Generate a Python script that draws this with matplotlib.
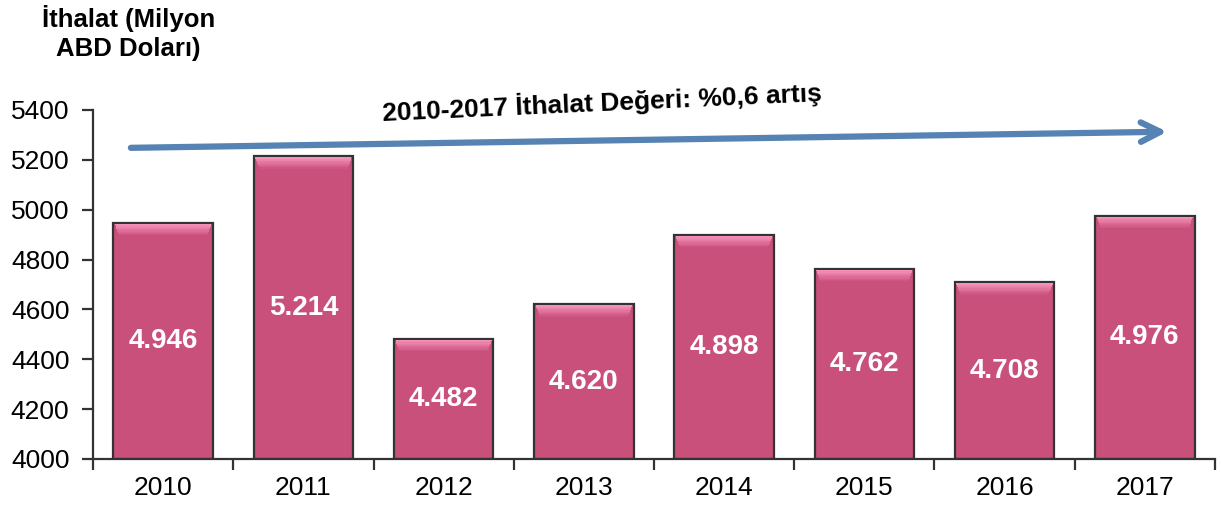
import matplotlib
matplotlib.use("Agg")
import matplotlib.pyplot as plt
import matplotlib.colors as mcolors
import numpy as np

plt.rcParams['font.family'] = ['Liberation Sans', 'DejaVu Sans']

# yillara gore ithalat degerleri (milyon ABD dolari)
years = ['2010', '2011', '2012', '2013', '2014', '2015', '2016', '2017']
imports = [4946, 5214, 4482, 4620, 4898, 4762, 4708, 4976]
value_labels = ['4.946', '5.214', '4.482', '4.620', '4.898', '4.762', '4.708', '4.976']
yticks = [4000, 4200, 4400, 4600, 4800, 5000, 5200, 5400]

bar_color = '#C8507B'
light_color = '#F590B8'
edge_color = '#333333'
arrow_color = '#5683B3'

fig = plt.figure(figsize=(12.21, 5.08), dpi=100)
ax = fig.add_axes([0.0762, 0.0965, 0.9188, 0.687])

x = np.arange(len(years))
bars = ax.bar(x, [v - 4000 for v in imports], bottom=4000, width=0.71,
              color=bar_color, edgecolor=edge_color, linewidth=1.6, zorder=2)

# ust kenarda acik renkten bar rengine gecen egim efekti
c_top = np.array(mcolors.to_rgb(light_color))
c_bar = np.array(mcolors.to_rgb(bar_color))
n_steps = 10
for b in bars:
    bx, bw = b.get_x(), b.get_width()
    top = b.get_y() + b.get_height()
    for i in range(n_steps):
        t = i / (n_steps - 1)
        col = c_top * (1 - t) + c_bar * t
        inset = 0.012 + 0.03 * t
        ax.fill_between([bx + inset, bx + bw - inset],
                        top - 4 - 5 * (i + 1), top - 4 - 5 * i,
                        color=col, linewidth=0, zorder=3)

for xi, v, lab in zip(x, imports, value_labels):
    ax.text(xi, (4000 + v) / 2, lab, ha='center', va='center',
            color='white', fontsize=20, fontweight='bold', zorder=4)

ax.set_xlim(-0.5, len(years) - 0.5)
ax.set_ylim(4000, 5400)
ax.set_yticks(yticks)
ax.set_xticks(x)
ax.set_xticklabels(years)
ax.set_xticks(np.arange(len(years) + 1) - 0.5, minor=True)
ax.tick_params(axis='x', which='major', length=0, labelsize=19, pad=12)
ax.tick_params(axis='x', which='minor', length=8, width=1.6, direction='out',
               color=edge_color)
ax.tick_params(axis='y', labelsize=19, length=8, width=1.6, color=edge_color,
               pad=9)
for s in ['top', 'right']:
    ax.spines[s].set_visible(False)
for s in ['left', 'bottom']:
    ax.spines[s].set_color(edge_color)
    ax.spines[s].set_linewidth(1.6)

# artis egilimi oku
ax.annotate('', xy=(7.18, 5313), xytext=(-0.25, 5248),
            arrowprops=dict(arrowstyle='->,head_length=1.4,head_width=0.7',
                            color=arrow_color, lw=4.5, capstyle='round',
                            joinstyle='round'),
            annotation_clip=False, zorder=5)
ax.text(3.13, 5428, '2010-2017 İthalat Değeri: %0,6 artış', ha='center',
        va='center', fontsize=19, fontweight='bold', rotation=2.6,
        rotation_mode='anchor')

fig.text(0.105, 0.935, 'İthalat (Milyon\nABD Doları)', ha='center', va='center',
         fontsize=18.5, fontweight='bold', linespacing=1.25)

fig.savefig('out.png', dpi=100)
